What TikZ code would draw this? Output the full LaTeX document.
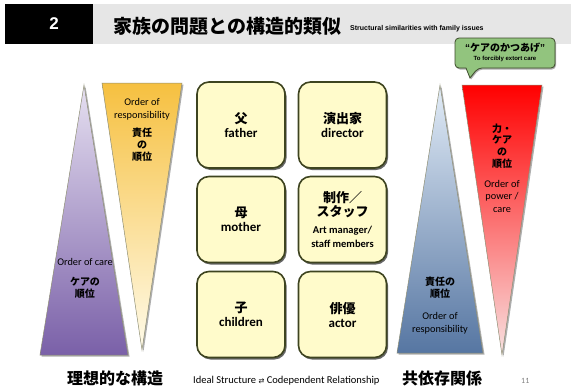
\documentclass[tikz,border=0pt]{standalone}
\usepackage{fontspec}
\setmainfont{Carlito}
\newfontfamily\jp{Noto Sans CJK JP}
\newfontfamily\arial{Liberation Sans}
\newfontfamily\dejavu{DejaVu Sans}
\usetikzlibrary{shadows}
\definecolor{boxfill}{HTML}{FFFBCB}
\definecolor{boxborder}{HTML}{3E4420}
\definecolor{hdrgray}{HTML}{E6E6E6}
\definecolor{triedge}{HTML}{8E8E74}
\definecolor{callgreen}{HTML}{92C47E}
\definecolor{callborder}{HTML}{3C4A2A}
\definecolor{purtop}{HTML}{E6E0F1}
\definecolor{purbot}{HTML}{7A60A8}
\definecolor{yeltop}{HTML}{F6C040}
\definecolor{yelbot}{HTML}{FFFBEA}
\definecolor{blutop}{HTML}{E2ECF7}
\definecolor{blubot}{HTML}{5676A2}
\definecolor{redtop}{HTML}{FF0000}
\definecolor{redbot}{HTML}{F8E2E2}
\tikzset{
  rbox/.style={draw=boxborder, line width=1.6pt, fill=boxfill, rounded corners=12pt,
    minimum width=88pt, minimum height=86pt, inner sep=0pt, align=center,
    font=\bfseries\fontsize{13}{14}\selectfont,
    drop shadow={shadow xshift=1.5pt, shadow yshift=-2pt, fill=black!75, opacity=0.8}},
  tri/.style={draw=triedge, line width=0.5pt,
    drop shadow={shadow xshift=1.5pt, shadow yshift=-1.5pt, fill=black!45, opacity=0.7}},
  entxt/.style={align=center, inner sep=0pt, font=\fontsize{10.3}{12.5}\selectfont},
  jptxt/.style={align=center, inner sep=0pt, font=\jp\bfseries\fontsize{10}{11.8}\selectfont},
}
\begin{document}
\begin{tikzpicture}[x=1pt,y=-1pt]
\useasboundingbox (0,0) rectangle (571,389);
\fill[white] (0,0) rectangle (571,389);
% header
\fill[hdrgray] (93,4) rectangle (571,44);
\fill[black] (5,4) rectangle (93,44);
\node[text=white, font=\arial\bfseries\fontsize{17}{20}\selectfont] (num) at (54,24) {2};
\node[anchor=base west, inner sep=0pt, font=\jp\bfseries\fontsize{19}{22}\selectfont] (title) at (113,33) {家族の問題との構造的類似};
\node[anchor=base west, inner sep=0pt, font=\arial\bfseries\fontsize{7}{8}\selectfont] (subtitle) at (350,30) {Structural similarities with family issues};

% left triangles
\path[tri, top color=purtop, bottom color=purbot] (40,355) -- (84,85) -- (128,355) -- cycle;
\path[tri, top color=yeltop, bottom color=yelbot] (102,83) -- (182,83) -- (142,350) -- cycle;
\node[entxt] (care) at (85,262) {Order of care};
\node[jptxt] (carejp) at (85,288) {ケアの\\順位};
\node[entxt] (resp1) at (142,109) {Order of\\responsibility};
\node[jptxt] (resp1jp) at (142,145) {責任\\の\\順位};

% right triangles
\path[tri, top color=blutop, bottom color=blubot] (397,353) -- (440,85) -- (483,353) -- cycle;
\path[tri, top color=redtop, bottom color=redbot] (462,85) -- (542,85) -- (502,355) -- cycle;
\node[jptxt] (resp2jp) at (440,288) {責任の\\順位};
\node[entxt] (resp2) at (440,323) {Order of\\responsibility};
\node[jptxt] (powjp) at (502,146) {力・\\ケア\\の\\順位};
\node[entxt] (pow) at (502,196) {Order of\\power /\\care};

% callout
\path[draw=callborder, line width=0.8pt, fill=callgreen,
  drop shadow={shadow xshift=1pt, shadow yshift=-1.5pt, fill=black!45, opacity=0.7}]
  (455,38) [rounded corners=4pt] -- (555,38) -- (555,68) -- (478,68) [sharp corners] -- (470,78) -- (466,68) [rounded corners=4pt] -- (455,68) -- cycle;
\node[inner sep=0pt, font=\bfseries\fontsize{10}{12}\selectfont] (calljp) at (505,48) {{\arial “}{\jp ケアのかつあげ}{\arial ”}};
\node[inner sep=0pt, font=\arial\bfseries\fontsize{6}{7}\selectfont] (callen) at (505,59) {To forcibly extort care};

% boxes
\node[rbox] (father) at (241,125) {{\jp 父}\\father};
\node[rbox] (director) at (342.5,125) {{\jp 演出家}\\director};
\node[rbox] (mother) at (241,219.5) {{\jp 母}\\mother};
\node[rbox] (staff) at (342.5,219.5) {{\jp 制作／}\\{\jp スタッフ}\\[3pt]{\fontsize{10.5}{13}\selectfont Art manager/}\\{\fontsize{10.5}{13}\selectfont staff members}};
\node[rbox] (children) at (241,314.5) {{\jp 子}\\children};
\node[rbox] (actor) at (342.5,314.5) {{\jp 俳優}\\actor};

% bottom
\node[anchor=base west, inner sep=0pt, font=\jp\bfseries\fontsize{16}{18}\selectfont] (ideal) at (67,384) {理想的な構造};
\node[anchor=base west, inner sep=0pt, font=\fontsize{10.5}{12}\selectfont] (caption) at (193,383) {Ideal Structure {\dejavu\fontsize{7}{8}\selectfont ⇄} Codependent Relationship};
\node[anchor=base west, inner sep=0pt, font=\jp\bfseries\fontsize{16}{18}\selectfont] (codep) at (402,384) {共依存関係};
\node[anchor=base west, inner sep=0pt, text=black!50, font=\fontsize{8}{9}\selectfont] (page) at (521,383) {11};
\end{tikzpicture}
\end{document}
